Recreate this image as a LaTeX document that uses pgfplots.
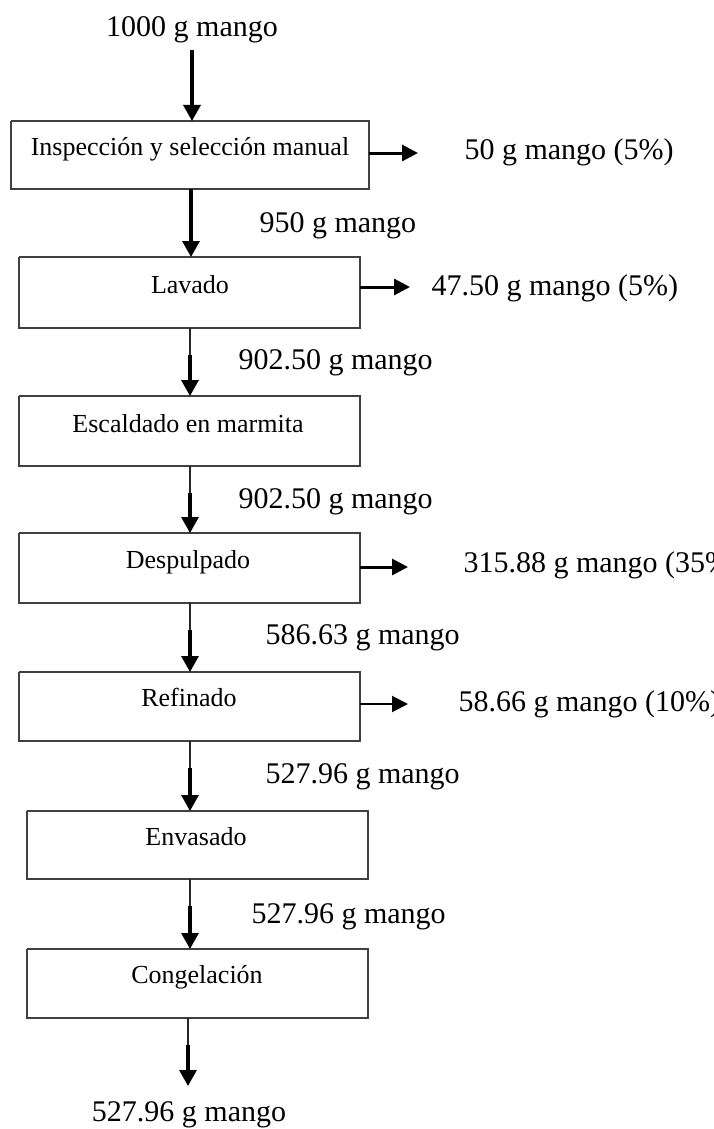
\documentclass[border=0pt]{standalone}
\usepackage{fontspec}
\setmainfont{Liberation Serif}
\usepackage{pgfplots}
\pgfplotsset{compat=1.18}
\usetikzlibrary{arrows.meta}

% one axis unit = one pixel of the reference, y running downwards
\newcommand{\flowfont}{\fontsize{30}{32}\selectfont}
\newcommand{\boxfont}{\fontsize{26}{28}\selectfont}

\begin{document}
\begin{tikzpicture}
\begin{axis}[
    width=714pt, height=1129pt, scale only axis,
    xmin=0, xmax=714, ymin=0, ymax=1129, y dir=reverse,
    axis lines=none, clip=false,
    box/.style={draw=black!75, line width=2pt, line join=miter, mark=none},
    stem/.style={draw=black!85, line width=1.5pt, mark=none},
    down/.style={draw=black, line width=3.2pt, mark=none, -{Triangle[length=16pt,width=17pt]}},
    side/.style={draw=black, line width=3pt, mark=none, -{Triangle[length=16pt,width=16pt]}},
]
% process boxes
\addplot[box] coordinates {(11,121) (369,121) (369,189) (11,189) (11,121)};
\addplot[box] coordinates {(19,257) (360,257) (360,328) (19,328) (19,257)};
\addplot[box] coordinates {(19,396) (360,396) (360,466) (19,466) (19,396)};
\addplot[box] coordinates {(19,533) (360,533) (360,603) (19,603) (19,533)};
\addplot[box] coordinates {(19,672) (360,672) (360,741) (19,741) (19,672)};
\addplot[box] coordinates {(27,811) (368,811) (368,879) (27,879) (27,811)};
\addplot[box] coordinates {(27,949) (368,949) (368,1018) (27,1018) (27,949)};

% main flow: the first two arrows are thick all along,
% the others are thin below the box and thick near the head
\addplot[down] coordinates {(192,50) (192,121)};
\addplot[down] coordinates {(191,189) (191,257)};
\addplot[stem] coordinates {(190,328) (190,358)};
\addplot[down] coordinates {(190,355) (190,396)};
\addplot[stem] coordinates {(190,466) (190,496)};
\addplot[down] coordinates {(190,493) (190,533)};
\addplot[stem] coordinates {(190,603) (190,633)};
\addplot[down] coordinates {(190,630) (190,672)};
\addplot[stem] coordinates {(190,741) (190,771)};
\addplot[down] coordinates {(190,768) (190,811)};
\addplot[stem] coordinates {(190,879) (190,909)};
\addplot[down] coordinates {(190,906) (190,949)};
\addplot[stem] coordinates {(188,1018) (188,1048)};
\addplot[down] coordinates {(188,1045) (188,1086)};

% losses
\addplot[side] coordinates {(369,153) (418,153)};
\addplot[side] coordinates {(360,287) (410,287)};
\addplot[side] coordinates {(360,567) (408,567)};
\addplot[side, line width=2pt] coordinates {(360,704) (408,704)};

% flow labels
\node[anchor=base, font=\flowfont] at (axis cs:192,37) {1000 g mango};
\node[anchor=base west, font=\flowfont] at (axis cs:256,232) {950 g mango};
\node[anchor=base west, font=\flowfont] at (axis cs:235,369) {902.50 g mango};
\node[anchor=base west, font=\flowfont] at (axis cs:235,508) {902.50 g mango};
\node[anchor=base west, font=\flowfont] at (axis cs:262,644) {586.63 g mango};
\node[anchor=base west, font=\flowfont] at (axis cs:262,783) {527.96 g mango};
\node[anchor=base west, font=\flowfont] at (axis cs:248,923) {527.96 g mango};
\node[anchor=base, font=\flowfont] at (axis cs:189,1121) {527.96 g mango};

\node[anchor=base west, font=\flowfont] at (axis cs:461,159) {50 g mango (5\%)};
\node[anchor=base west, font=\flowfont] at (axis cs:428,295) {47.50 g mango (5\%)};
\node[anchor=base west, font=\flowfont] at (axis cs:460,572) {315.88 g mango (35\%)};
\node[anchor=base west, font=\flowfont] at (axis cs:455,711) {58.66 g mango (10\%)};

% box labels
\node[anchor=base, font=\boxfont] at (axis cs:190,155) {Inspección y selección manual};
\node[anchor=base, font=\boxfont] at (axis cs:190,293) {Lavado};
\node[anchor=base, font=\boxfont] at (axis cs:188,432) {Escaldado en marmita};
\node[anchor=base, font=\boxfont] at (axis cs:188,568) {Despulpado};
\node[anchor=base, font=\boxfont] at (axis cs:189,706) {Refinado};
\node[anchor=base, font=\boxfont] at (axis cs:196,845) {Envasado};
\node[anchor=base, font=\boxfont] at (axis cs:197,983) {Congelación};
\end{axis}
\pgfresetboundingbox
\useasboundingbox (current axis.south west) rectangle (current axis.north east);
\end{tikzpicture}
\end{document}
